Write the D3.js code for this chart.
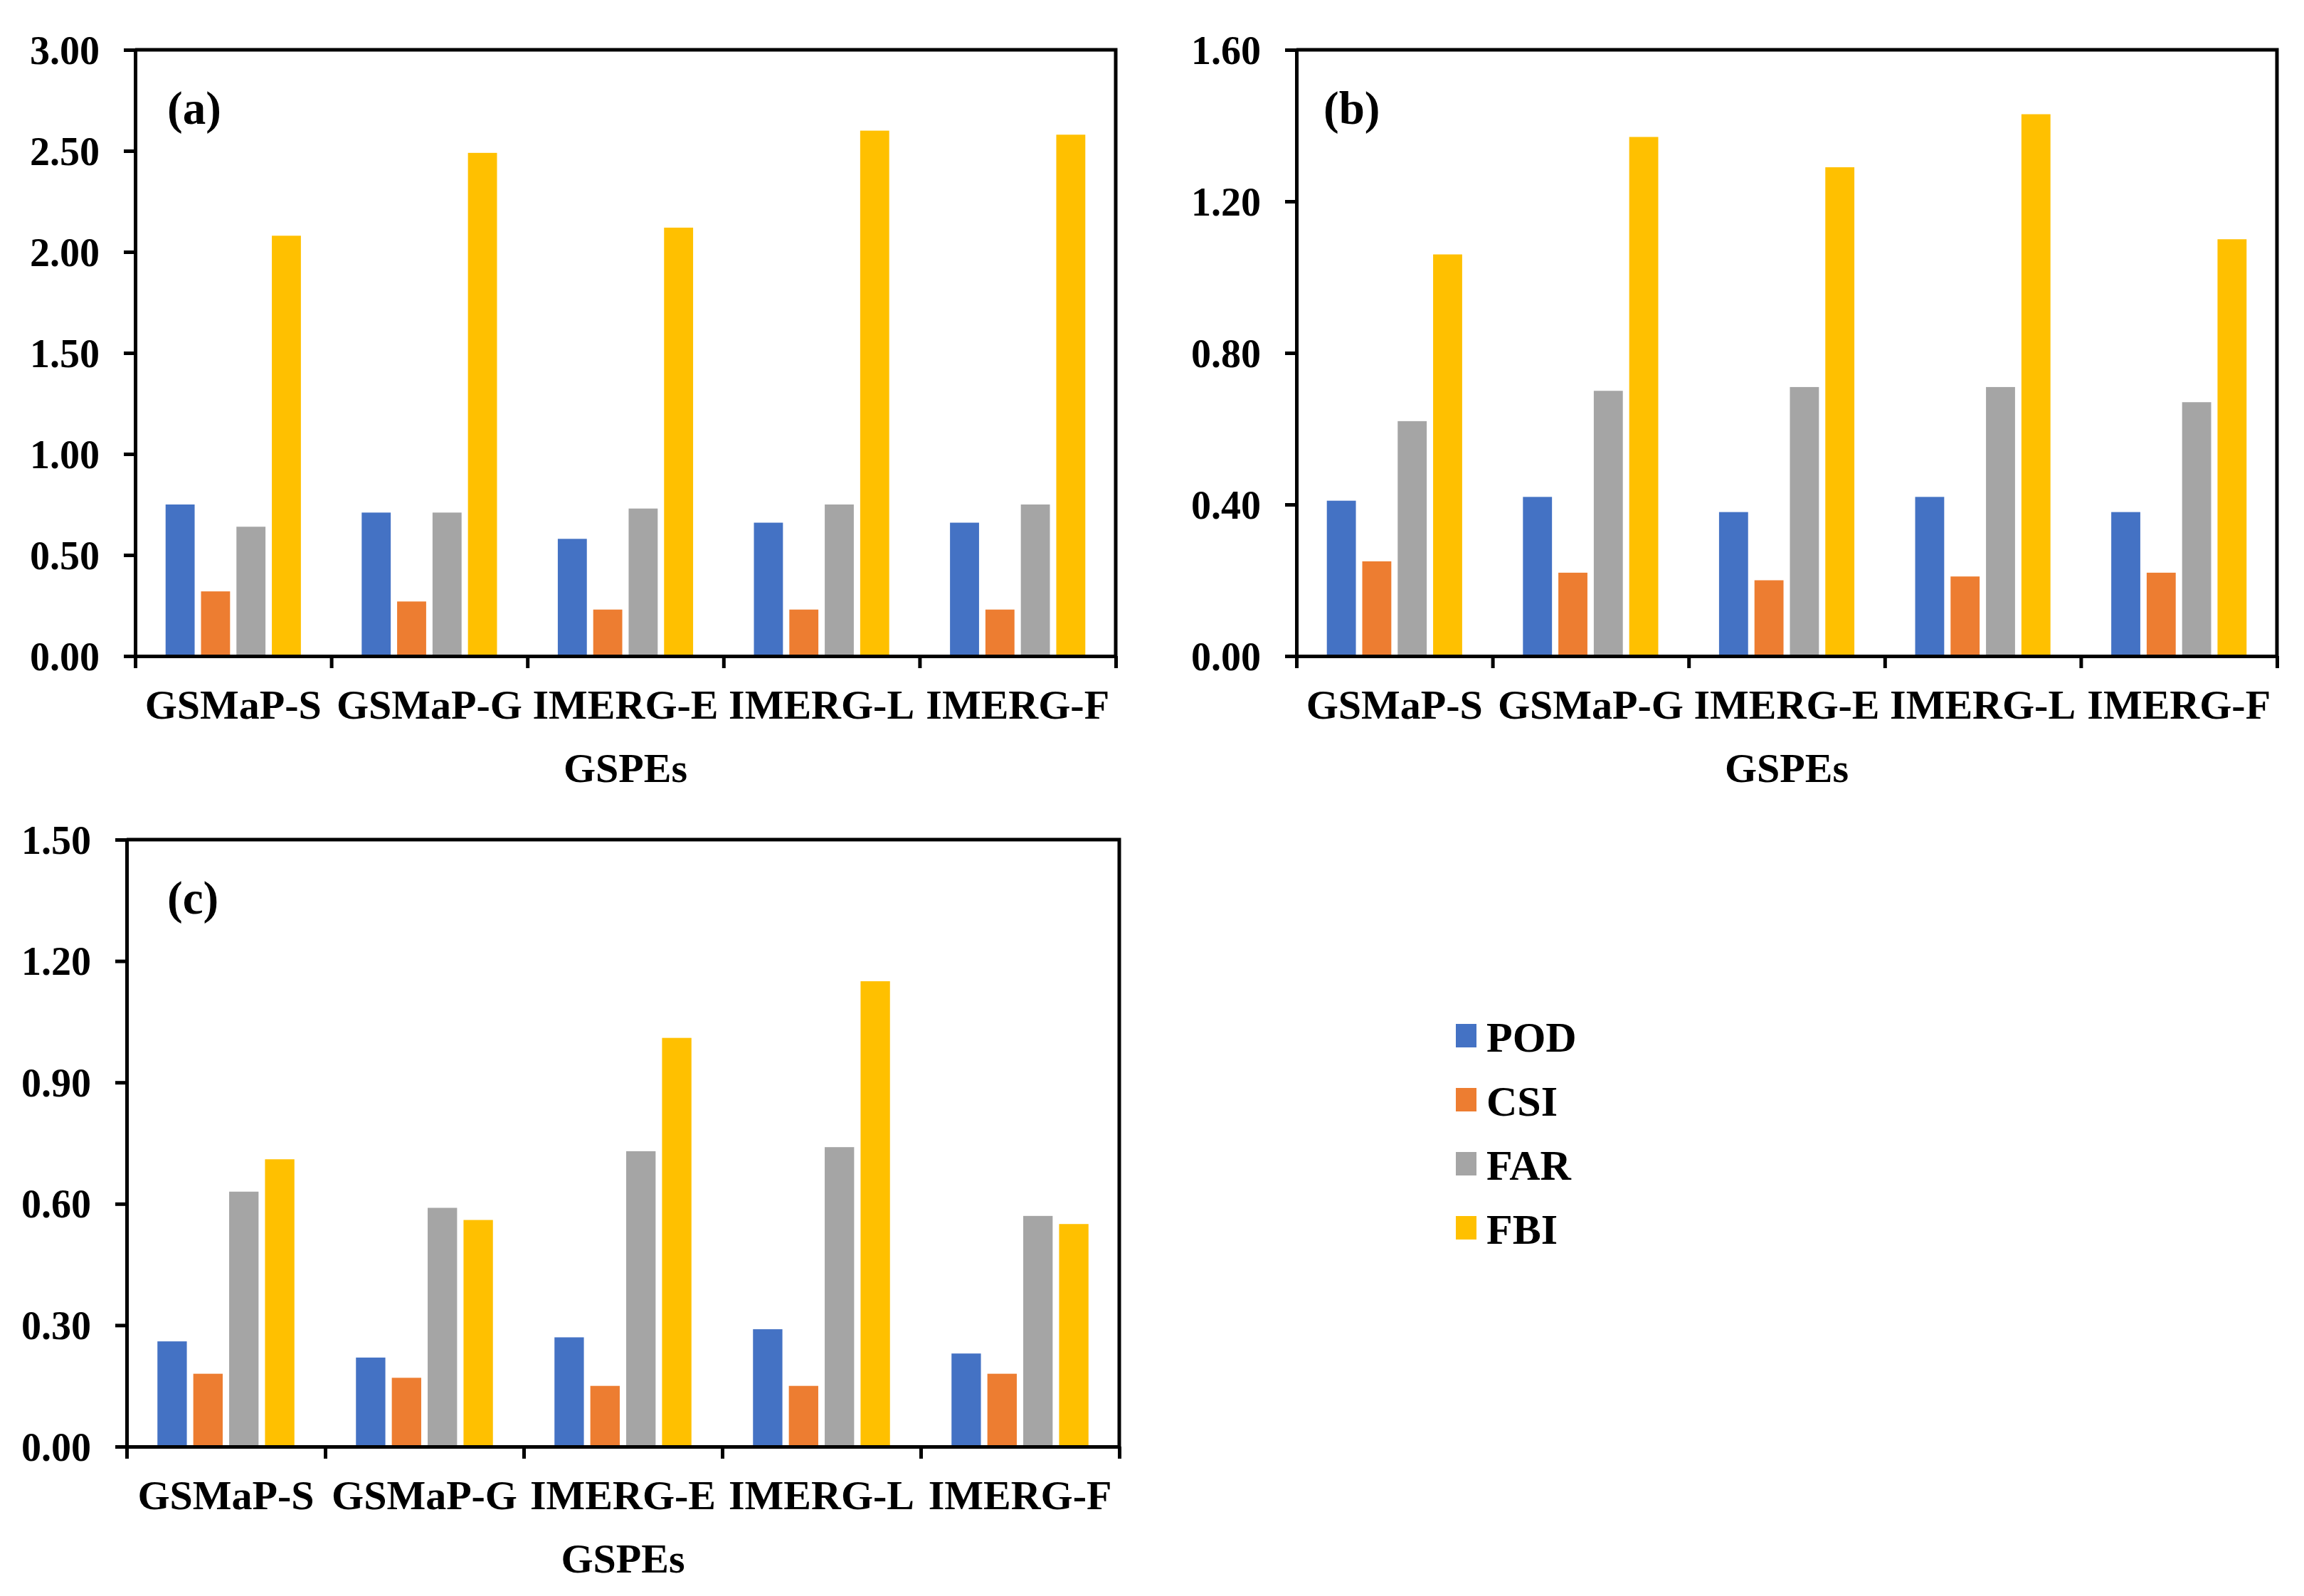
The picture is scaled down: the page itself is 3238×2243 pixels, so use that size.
<!DOCTYPE html>
<html>
<head>
<meta charset="utf-8">
<script src="https://cdn.jsdelivr.net/npm/d3@7"></script>
<style>
  body { margin: 0; background: #fff; }
  text { font-family: "Liberation Serif", "Times New Roman", serif; font-weight: bold; fill: #000; }
</style>
</head>
<body>
<script>
// data
var categories = ["GSMaP-S", "GSMaP-G", "IMERG-E", "IMERG-L", "IMERG-F"];
var series = ["POD", "CSI", "FAR", "FBI"];

var podA = [0.75, 0.71, 0.58, 0.66, 0.66];
var csiA = [0.32, 0.27, 0.23, 0.23, 0.23];
var farA = [0.64, 0.71, 0.73, 0.75, 0.75];
var fbiA = [2.08, 2.49, 2.12, 2.60, 2.58];

var podB = [0.41, 0.42, 0.38, 0.42, 0.38];
var csiB = [0.25, 0.22, 0.20, 0.21, 0.22];
var farB = [0.62, 0.70, 0.71, 0.71, 0.67];
var fbiB = [1.06, 1.37, 1.29, 1.43, 1.10];

var podC = [0.26, 0.22, 0.27, 0.29, 0.23];
var csiC = [0.18, 0.17, 0.15, 0.15, 0.18];
var farC = [0.63, 0.59, 0.73, 0.74, 0.57];
var fbiC = [0.71, 0.56, 1.01, 1.15, 0.55];

var ticksA = [0, 0.5, 1.0, 1.5, 2.0, 2.5, 3.0];
var ticksB = [0, 0.4, 0.8, 1.2, 1.6];
var ticksC = [0, 0.3, 0.6, 0.9, 1.2, 1.5];

var colors = ["#4472C4", "#ED7D31", "#A5A5A5", "#FFC000"];

var W = 3238, H = 2243;

var svg = d3.select("body").append("svg")
  .attr("width", W)
  .attr("height", H);

svg.append("rect").attr("width", W).attr("height", H).attr("fill", "#fff");

var panels = [
  { label: "(a)", vals: [podA, csiA, farA, fbiA], ticks: ticksA, left: 190, right: 1568, top: 70, bottom: 922, lx: 45 },
  { label: "(b)", vals: [podB, csiB, farB, fbiB], ticks: ticksB, left: 1822, right: 3200, top: 70, bottom: 922, lx: 38 },
  { label: "(c)", vals: [podC, csiC, farC, fbiC], ticks: ticksC, left: 178, right: 1573, top: 1180, bottom: 2033, lx: 57 }
];

panels.forEach(function(p) {
  var g = svg.append("g");

  var x0 = d3.scaleBand()
    .domain(categories)
    .range([p.left, p.right])
    .paddingInner(0.31)
    .paddingOuter(0.155);

  var x1 = d3.scaleBand()
    .domain(series)
    .range([0, x0.bandwidth()])
    .paddingInner(0.18);

  var y = d3.scaleLinear()
    .domain([0, p.ticks[p.ticks.length - 1]])
    .range([p.bottom, p.top]);

  // bars
  series.forEach(function(s, i) {
    g.append("g").selectAll("rect")
      .data(p.vals[i])
      .enter().append("rect")
      .attr("x", function(d, j) { return x0(categories[j]) + x1(s); })
      .attr("y", function(d) { return y(d); })
      .attr("width", x1.bandwidth())
      .attr("height", function(d) { return p.bottom - y(d); })
      .attr("fill", colors[i]);
  });

  // box top / right
  g.append("path")
    .attr("d", "M" + p.left + "," + p.top + "H" + p.right + "V" + p.bottom)
    .attr("fill", "none")
    .attr("stroke", "#000")
    .attr("stroke-width", 5);

  // y axis
  var ya = g.append("g")
    .attr("transform", "translate(" + p.left + ",0)")
    .call(d3.axisLeft(y).tickValues(p.ticks).tickFormat(d3.format(".2f")).tickSize(16).tickSizeOuter(0).tickPadding(34));
  ya.select(".domain").attr("stroke-width", 5);
  ya.selectAll(".tick line").attr("stroke-width", 5);
  ya.selectAll("text").attr("font-size", 56).attr("font-family", null).attr("dy", "0.34em");

  // x axis, ticks between categories
  var xb = d3.scaleLinear().domain([0, categories.length]).range([p.left, p.right]);
  var xa = g.append("g")
    .attr("transform", "translate(0," + p.bottom + ")")
    .call(d3.axisBottom(xb).tickValues(d3.range(categories.length + 1)).tickFormat("").tickSize(17).tickSizeOuter(0));
  xa.select(".domain").attr("stroke-width", 5);
  xa.selectAll(".tick line").attr("stroke-width", 5);

  // category labels
  var xl = g.append("g")
    .attr("transform", "translate(0," + (p.bottom + 88) + ")")
    .call(d3.axisBottom(x0).tickSize(0).tickPadding(0));
  xl.select(".domain").remove();
  xl.selectAll("text").attr("font-size", 58).attr("font-family", null).attr("dy", 0).attr("y", 0);

  g.append("text")
    .attr("x", (p.left + p.right) / 2)
    .attr("y", p.bottom + 177)
    .attr("text-anchor", "middle")
    .attr("font-size", 58)
    .text("GSPEs");

  g.append("text")
    .attr("x", p.left + p.lx)
    .attr("y", p.top + 104)
    .attr("font-size", 65)
    .text(p.label);
});

// legend
var legend = svg.append("g").attr("transform", "translate(2046,1439)");
series.forEach(function(s, i) {
  var row = legend.append("g").attr("transform", "translate(0," + (i * 90) + ")");
  row.append("rect").attr("width", 29).attr("height", 33).attr("fill", colors[i]);
  row.append("text").attr("x", 43).attr("y", 39).attr("font-size", 60).text(s);
});
</script>
</body>
</html>
